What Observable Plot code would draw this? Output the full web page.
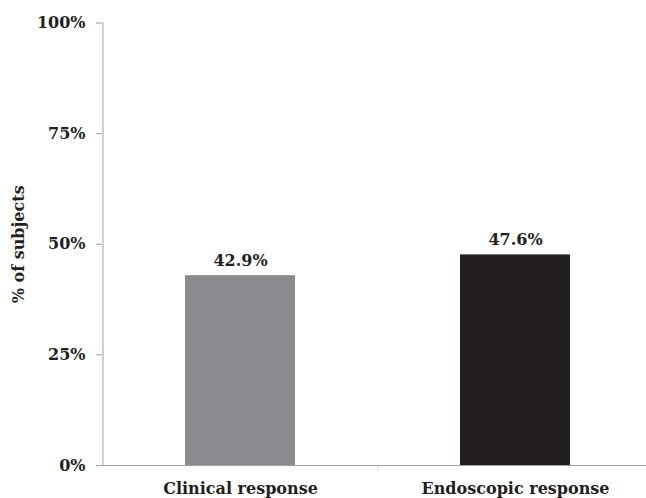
<!DOCTYPE html>
<html>
<head>
<meta charset="utf-8">
<script src="https://cdn.jsdelivr.net/npm/d3@7"></script>
<script src="https://cdn.jsdelivr.net/npm/@observablehq/plot@0.6"></script>
<style>
  html, body { margin: 0; padding: 0; background: #fff; }
  #chart svg { display: block; }
</style>
</head>
<body>
<div id="chart"></div>
<script>
const categories = ["Clinical response", "Endoscopic response"];
const values = [42.9, 47.6];
const barColors = ["#8b8b8f", "#231f20"];
const yTicks = [0, 25, 50, 75, 100];
const yLabel = "% of subjects";

const data = categories.map((c, i) => ({category: c, value: values[i], color: barColors[i]}));
const font = "'DejaVu Serif', serif";
const textColor = "#231f20";
const axisColor = "#a0a0a0";

const chart = Plot.plot({
  width: 646,
  height: 498,
  marginLeft: 102,
  marginRight: -6,
  marginTop: 22.5,
  marginBottom: 33,
  style: {fontFamily: font, fontWeight: "bold", fontSize: "16px", color: textColor, background: "#fff"},
  x: {domain: categories, paddingInner: 0.6, paddingOuter: 0.3, label: null},
  y: {domain: [0, 100], label: null},
  marks: [
    Plot.axisY({ticks: yTicks, tickFormat: d => d + "%", tickSize: 6, tickPadding: 11, stroke: axisColor, fontSize: 16, fontWeight: "bold", fill: textColor}),
    Plot.text([yLabel], {frameAnchor: "left", textAnchor: "middle", rotate: -90, dx: -84, fontSize: 16, fontWeight: "bold", fill: textColor}),
    Plot.axisX({tickSize: 0, tickPadding: 17, fontSize: 16, fontWeight: "bold", fill: textColor}),
    Plot.barY(data, {x: "category", y: "value", fill: "color"}),
    Plot.text(data, {x: "category", y: "value", text: d => d.value.toFixed(1) + "%", dy: -15, fontSize: 16, fontWeight: "bold", fill: textColor}),
    Plot.ruleX([0], {x: () => categories[1], dx: -137.5, y1: 0, y2: 0, insetBottom: -6, stroke: "#d0d0d0"}),
    Plot.ruleY([0], {stroke: axisColor}),
    Plot.ruleX([0], {x: () => categories[0], dx: -137.5, y1: 0, y2: 100, stroke: axisColor})
  ]
});
document.getElementById("chart").appendChild(chart);
</script>
</body>
</html>
